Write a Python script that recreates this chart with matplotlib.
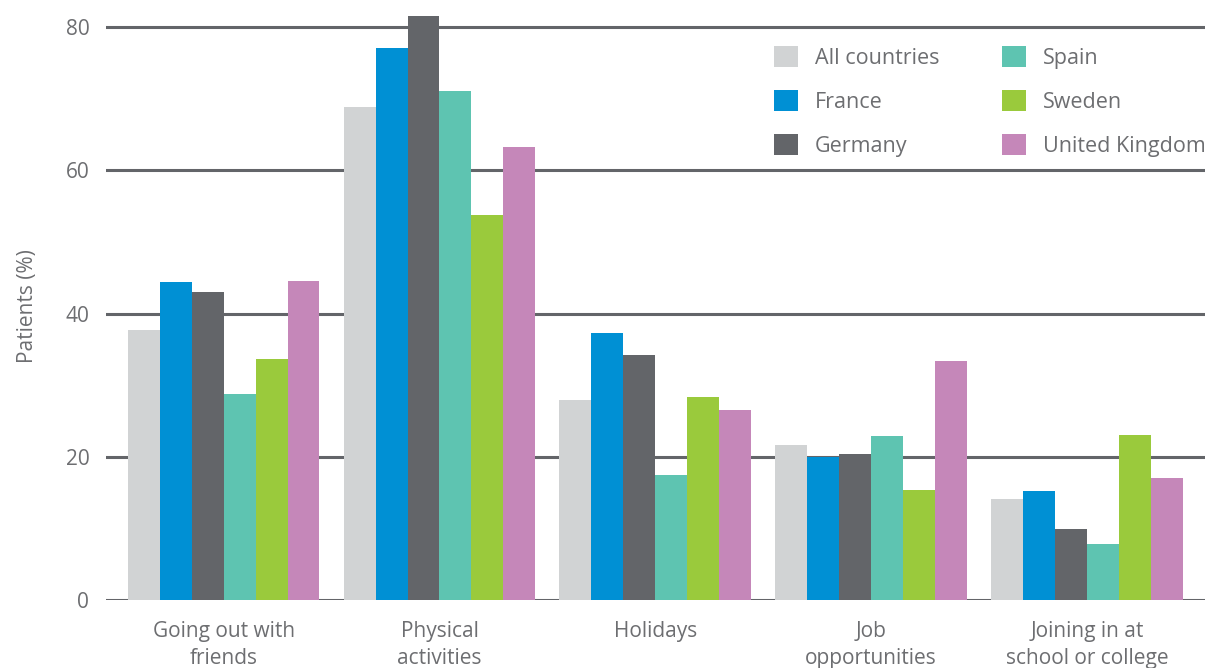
import numpy as np
import matplotlib
matplotlib.use("Agg")
import matplotlib.pyplot as plt
from matplotlib.patches import Patch

plt.rcParams['font.family'] = ['Open Sans', 'DejaVu Sans']

# activities and share of patients (%) per country
activities = ["Going out with\nfriends", "Physical\nactivities", "Holidays",
              "Job\nopportunities", "Joining in at\nschool or college"]
countries = ["All countries", "France", "Germany", "Spain", "Sweden", "United Kingdom"]
all_countries = [37.7, 68.8, 27.9, 21.6, 14.1]
france = [44.4, 77.1, 37.3, 20.0, 15.2]
germany = [43.0, 81.6, 34.2, 20.4, 9.9]
spain = [28.7, 71.1, 17.4, 22.9, 7.8]
sweden = [33.6, 53.7, 28.3, 15.3, 23.0]
uk = [44.6, 63.3, 26.5, 33.3, 17.0]
yticks = [0, 20, 40, 60, 80]

series = [all_countries, france, germany, spain, sweden, uk]
colors = ['#D1D3D4', '#0090D4', '#636569', '#5EC4B1', '#9ACA3C', '#C587B9']
txt = '#6D6E71'

fig = plt.figure(figsize=(12.16, 6.68), dpi=100)
ax = fig.add_axes([0.0872, 0.1018, 0.9038, 0.8792])

x = np.arange(len(activities))
w = 0.148
for i, (vals, c) in enumerate(zip(series, colors)):
    ax.bar(x + (i - 2.5) * w, vals, width=w, color=c, zorder=3)

ax.set_xlim(-0.545, 4.547)
ax.set_ylim(0, 82)
ax.set_yticks(yticks)
ax.yaxis.grid(True, color='#636569', linewidth=2.2, zorder=0)
ax.set_axisbelow(True)
for s in ax.spines.values():
    s.set_visible(False)

ax.set_xticks(x)
ax.set_xticklabels(activities, fontsize=15, color=txt, linespacing=1.4)
ax.tick_params(axis='x', length=0, pad=15)
ax.tick_params(axis='y', length=0, pad=12, labelsize=15, labelcolor=txt)
ax.set_ylabel("Patients (%)", fontsize=15, color=txt, labelpad=20)

handles = [Patch(facecolor=c, label=n) for c, n in zip(colors, countries)]
ax.legend(handles=handles, ncol=2, loc='upper left', bbox_to_anchor=(0.6, 0.958),
          frameon=False, fontsize=15.5, labelcolor=txt, handlelength=1.1,
          handleheight=1.1, handletextpad=0.8, labelspacing=1.0,
          columnspacing=2.9, borderaxespad=0)

fig.savefig("out.png", dpi=100)
